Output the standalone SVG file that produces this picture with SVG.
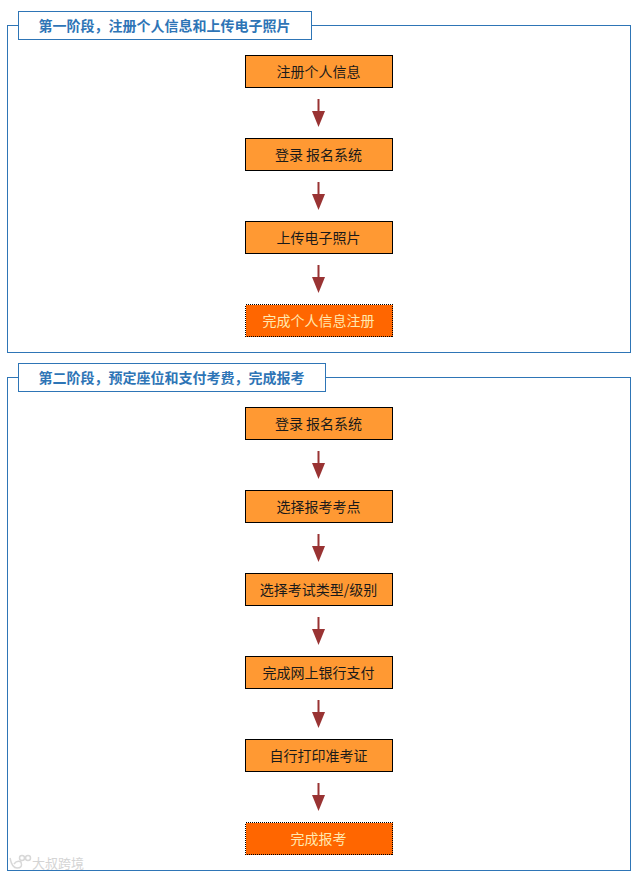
<svg xmlns="http://www.w3.org/2000/svg" width="637" height="877" viewBox="0 0 637 877">
<style>
text{font-family:"Noto Sans CJK SC","Liberation Sans",sans-serif;font-size:14px;text-anchor:middle}
.sec{fill:none;stroke:#2e75b6;stroke-width:1}
.lab{fill:#fff;stroke:#2e75b6;stroke-width:1}
.labt{fill:#2e75b6;font-weight:700;text-anchor:start}
.n{fill:#ff9933;stroke:#000;stroke-width:1}
.e{fill:#ff6600;stroke:#000;stroke-width:1;stroke-dasharray:1 1;shape-rendering:crispEdges}
.nt{fill:#1a1a1a}
.et{fill:#ffe9b0}
.c{stroke:#993333;stroke-width:2;fill:none}
.h{fill:#993333}
.wm{fill:none;stroke:#d8d8d8;stroke-width:1.5}
</style>
<defs>
<g id="arr"><path class="c" d="M0 0V13"/><path class="h" d="M-6.5 12H6.5L0 28Z"/></g>
</defs>
<rect width="637" height="877" fill="#fff"/>
<g id="section1"><rect class="sec" x="7.5" y="25.5" width="623" height="327"/><rect class="lab" x="18.5" y="11.5" width="293" height="28"/><text class="labt" x="38.5" y="31">第一阶段，注册个人信息和上传电子照片</text></g>
<g id="section2"><rect class="sec" x="7.5" y="377.5" width="623" height="493"/><rect class="lab" x="18.5" y="363.5" width="307" height="28"/><text class="labt" x="38.5" y="383">第二阶段，预定座位和支付考费，完成报考</text></g>
<g id="connectors">
<use href="#arr" x="318.5" y="99"/><use href="#arr" x="318.5" y="182"/><use href="#arr" x="318.5" y="265"/>
<use href="#arr" x="318.5" y="451"/><use href="#arr" x="318.5" y="534"/><use href="#arr" x="318.5" y="617"/><use href="#arr" x="318.5" y="700"/><use href="#arr" x="318.5" y="783"/>
</g>
<g id="n1"><rect class="n" x="245.5" y="55.5" width="147" height="32"/><text class="nt" x="318.5" y="77">注册个人信息</text></g>
<g id="n2"><rect class="n" x="245.5" y="138.5" width="147" height="32"/><text class="nt" x="318.5" y="160">登录 报名系统</text></g>
<g id="n3"><rect class="n" x="245.5" y="221.5" width="147" height="32"/><text class="nt" x="318.5" y="243">上传电子照片</text></g>
<g id="n4"><rect class="e" x="245.5" y="304.5" width="147" height="32"/><text class="et" x="318.5" y="326">完成个人信息注册</text></g>
<g id="n5"><rect class="n" x="245.5" y="407.5" width="147" height="32"/><text class="nt" x="318.5" y="429">登录 报名系统</text></g>
<g id="n6"><rect class="n" x="245.5" y="490.5" width="147" height="32"/><text class="nt" x="318.5" y="512">选择报考考点</text></g>
<g id="n7"><rect class="n" x="245.5" y="573.5" width="147" height="32"/><text class="nt" x="318.5" y="595">选择考试类型/级别</text></g>
<g id="n8"><rect class="n" x="245.5" y="656.5" width="147" height="32"/><text class="nt" x="318.5" y="678">完成网上银行支付</text></g>
<g id="n9"><rect class="n" x="245.5" y="739.5" width="147" height="32"/><text class="nt" x="318.5" y="761">自行打印准考证</text></g>
<g id="n10"><rect class="e" x="245.5" y="822.5" width="147" height="32"/><text class="et" x="318.5" y="844">完成报考</text></g>
<g id="watermark"><path class="wm" d="M10 858Q12 868 17 868Q23 868 21 862Q17 860 14 864"/><circle class="wm" cx="22" cy="858" r="2.5"/><circle class="wm" cx="28" cy="858" r="2.5"/><text x="58" y="868" fill="#d4d4d4" style="font-size:13px">大叔跨境</text></g>
</svg>
